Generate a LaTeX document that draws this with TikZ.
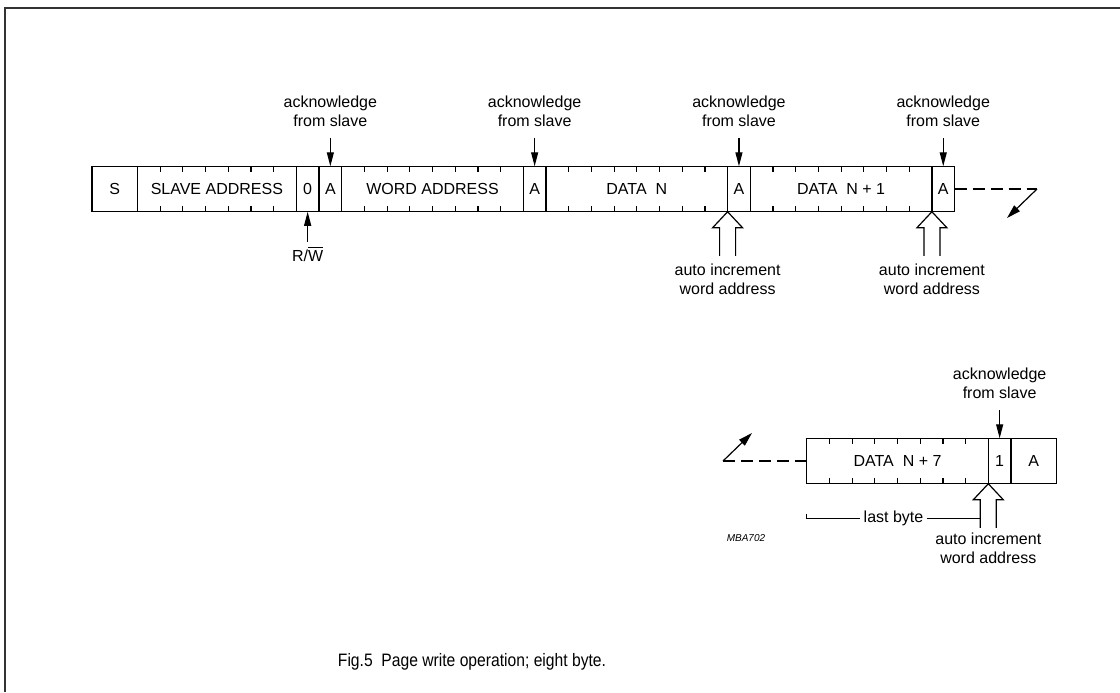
\documentclass[tikz,border=0pt]{standalone}
\usepackage{fontspec}
\setmainfont{Liberation Sans}
\newfontfamily\capfont[FakeStretch=0.87]{Liberation Sans}
\usetikzlibrary{positioning,arrows.meta,calc}

\newcommand{\bu}{11.35pt}

\begin{document}
\begin{tikzpicture}[
x=0.5pt, y=-0.5pt, line width=0.6pt,
font=\fontsize{8}{9.5}\selectfont,
field/.style={draw, minimum height=22.75pt, inner sep=0pt, outer sep=0pt, minimum width=#1*\bu},
field/.default=1,
note/.style={align=center, inner sep=1pt},
ack/.style={-{Triangle[length=7pt,width=3.5pt]}, shorten <=4.5pt},
cont/.style={-{Triangle[length=7pt,width=4pt]}},
gap/.style={dash pattern=on 6pt off 3pt},
incr/.pic={\draw (-8,44) -- (-8,16) -- (-15,16) -- (0,0) -- (15,16) -- (8,16) -- (8,44);},
]
\useasboundingbox (0,0) rectangle (1120,692);

% frame
\draw[line width=1pt, black!80] (5,692) -- (5,8) -- (1120,8);

% first row
\node[field=2] (s) at (114.7,189) {S};
\node[field=7, right=0pt of s] (sa) {SLAVE ADDRESS};
\node[field, right=0pt of sa] (rw) {0};
\node[field, right=0pt of rw] (a1) {A};
\node[field=8, right=0pt of a1] (wa) {WORD ADDRESS};
\node[field, right=0pt of wa] (a2) {A};
\node[field=8, right=0pt of a2] (dn) {DATA\ \ N};
\node[field, right=0pt of dn] (a3) {A};
\node[field=8, right=0pt of a3] (dn1) {DATA\ \ N + 1};
\node[field, right=0pt of dn1] (a4) {A};

% second row
\node[field=8] (dn7) at (897.5,461) {DATA\ \ N + 7};
\node[field, right=0pt of dn7] (b1) {1};
\node[field=2, right=0pt of b1] (a5) {A};

% bit ticks
\foreach \f/\n in {sa/6, wa/7, dn/7, dn1/7, dn7/7}
  \foreach \i in {1,...,\n}
    \draw ([xshift=\i*\bu]\f.north west) -- ++(0,6)
          ([xshift=\i*\bu]\f.south west) -- ++(0,-6);

% acknowledges
\foreach \a/\l in {a1/k1, a2/k2, a3/k3, a4/k4, b1/k5} {
  \node[note, above=18.5pt of \a.north] (\l) {acknowledge\\from slave};
  \draw[ack] (\l) -- (\a);
}

\node[note, below=16pt of rw.south] (rwl) {R/$\overline{\hbox{W}}$};
\draw[ack, shorten <=1pt] (rwl) -- (rw);

% auto increment
\pic at (a3.south west) {incr};
\pic at (a4.south west) {incr};
\pic at (b1.south west) {incr};
\node[note, below=25pt of a3.south west] (i1) {auto increment\\word address};
\node[note, below=25pt of a4.south west] (i2) {auto increment\\word address};
\node[note, below=23.5pt of b1.south west] (i3) {auto increment\\word address};

\draw ([yshift=-15pt]dn7.south west) -- ++(0,5)
  -- ($(b1.south west)+(-8,35)$) node[midway, note, fill=white, inner sep=2pt] (lb) {last byte};

% continuation
\coordinate (e1) at (1037,189);
\coordinate (e2) at (1007,218);
\coordinate (e3) at (723,461);
\coordinate (e4) at (752,433);
\draw[gap] (a4) -- (e1);
\draw[cont] (e1) -- (e2);
\draw[gap] (dn7) -- (e3);
\draw[cont] (e3) -- (e4);

\node[font=\fontsize{5}{6}\selectfont\itshape] (code) at (746,538) {MBA702};
\node[font=\capfont\fontsize{9}{11}\selectfont] (cap) at (472,662) {Fig.5\ \ Page write operation; eight byte.};
\end{tikzpicture}
\end{document}
